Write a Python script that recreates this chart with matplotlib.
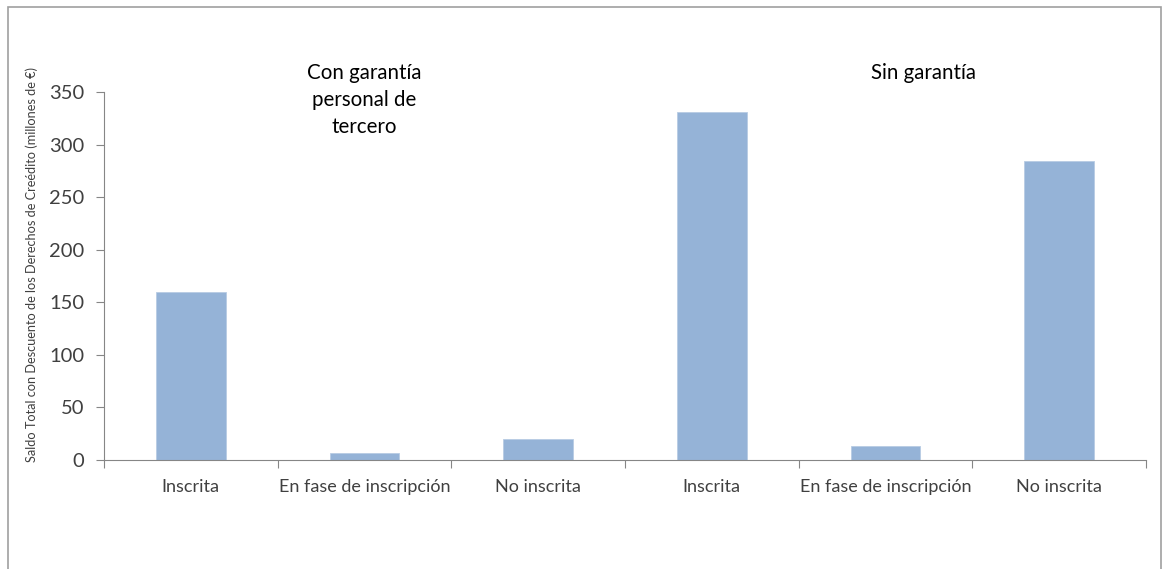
import matplotlib
matplotlib.use("Agg")
from matplotlib import pyplot as plt
from matplotlib.patches import Rectangle
from matplotlib.transforms import blended_transform_factory

plt.rcParams['font.family'] = ['Lato', 'DejaVu Sans']

# data
categories = ["Inscrita", "En fase de inscripción", "No inscrita",
              "Inscrita", "En fase de inscripción", "No inscrita"]
values = [160, 6.5, 20, 331, 13.5, 284]
group_titles = ["Con garantía\npersonal de\ntercero", "Sin garantía"]
yticks = [0, 50, 100, 150, 200, 250, 300, 350]

bar_color = "#95b3d7"
axis_color = "#868686"
text_color = "#404040"

fig = plt.figure(figsize=(11.70, 5.69), dpi=100)
ax = fig.add_axes([0.0889, 0.1916, 0.8906, 0.6467])

x = list(range(len(categories)))
ax.bar(x, values, width=0.4, color=bar_color, edgecolor="#b8cce4", linewidth=0.6)

ax.set_xlim(-0.5, len(categories) - 0.5)
ax.set_ylim(0, 350)
ax.set_yticks(yticks)

# boundaries as major ticks, labels at centres
ax.set_xticks([i - 0.5 for i in range(len(categories) + 1)])
ax.set_xticklabels([])
ax.set_xticks(x, minor=True)
ax.set_xticklabels(categories, minor=True)
ax.tick_params(axis="x", which="major", length=6, color=axis_color, direction="out")
ax.tick_params(axis="x", which="minor", length=0, pad=14, labelsize=13, labelcolor=text_color)
ax.tick_params(axis="y", length=6, color=axis_color, pad=8, labelsize=14.5, labelcolor=text_color)

for s in ["top", "right"]:
    ax.spines[s].set_visible(False)
for s in ["left", "bottom"]:
    ax.spines[s].set_color(axis_color)

ax.set_ylabel("Saldo Total con Descuento de los Derechos de Creédito (millones de €)",
              fontsize=9.2, color=text_color)
ax.yaxis.set_label_coords(-0.063, 0.53)

trans = blended_transform_factory(ax.transData, ax.transAxes)
ax.text(1, 1.08, group_titles[0], transform=trans, ha="center", va="top",
        fontsize=14.8, linespacing=1.45)
ax.text(4.22, 1.08, group_titles[1], transform=trans, ha="center", va="top",
        fontsize=14.8)

# chart border
fig.patches.append(Rectangle((8 / 1170, -0.05), 1153 / 1170, 1.05 - 7 / 569,
                             transform=fig.transFigure, fill=False,
                             edgecolor="#a0a0a0", linewidth=1.2))

fig.savefig("out.png", dpi=100)
